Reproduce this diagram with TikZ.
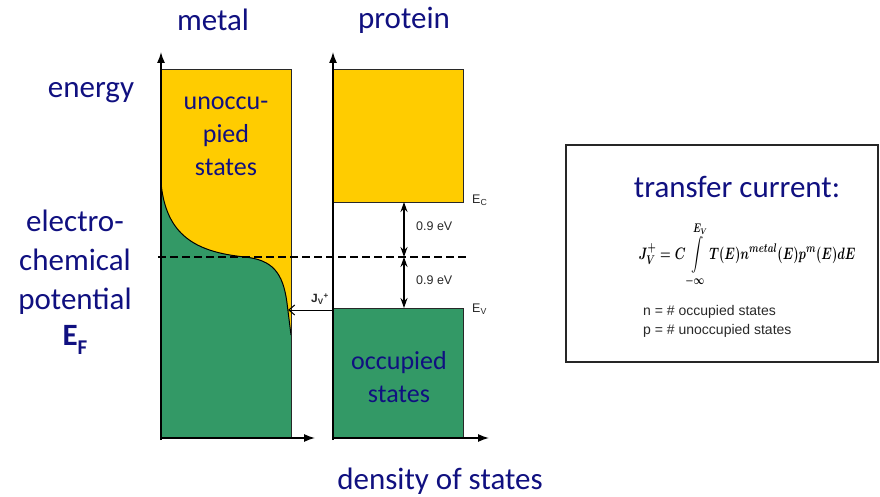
\documentclass[tikz,border=0pt]{standalone}
\usepackage{amsmath}
\usepackage{graphicx}
\usepackage{fontspec}
\setmainfont{Carlito}
\newfontfamily\arial{Liberation Sans}
\usetikzlibrary{arrows.meta}
\definecolor{navy}{RGB}{16,16,128}
\definecolor{gold}{RGB}{255,204,0}
\definecolor{dsgreen}{RGB}{51,153,102}
\definecolor{edge}{RGB}{40,40,40}
\definecolor{eqgray}{RGB}{40,40,40}
\newsavebox{\eqbox}
\tikzset{
  bigtxt/.style={text=navy, font=\fontsize{31}{39}\selectfont, inner sep=0pt, align=center},
  midtxt/.style={text=navy, font=\fontsize{26}{33}\selectfont, inner sep=0pt, align=center},
  smalltxt/.style={text=eqgray, font=\arial\fontsize{12.5}{15}\selectfont, inner sep=0pt},
  axisline/.style={line width=1.4pt, -{Latex[length=11pt,width=8pt]}},
  boxline/.style={draw=edge, line width=1pt},
  dblarrow/.style={line width=1.3pt, {Stealth[length=10pt,width=7pt]}-{Stealth[length=10pt,width=7pt]}},
}
\begin{document}
\mathversion{bold}%
\sbox{\eqbox}{\scalebox{0.85}[1.15]{\fontsize{15}{17}\selectfont
  $\displaystyle J_V^{+} = C\int\limits_{-\infty}^{E_V} T(E)n^{metal}(E)p^{m}(E)dE$}}%
\mathversion{normal}%
\begin{tikzpicture}[x=1pt,y=-1pt]
\useasboundingbox (0,0) rectangle (880,497);
% headings
\node[bigtxt] (metal) at (213,20) {metal};
\node[bigtxt] (protein) at (404,20) {protein};
\node[bigtxt] (energy) at (91,93) {energy};
\node[bigtxt] (ecp) at (75,262) {electro-\\chemical\\potential};
\node[text=navy, inner sep=0pt] (EF) at (75,340) {\fontsize{31}{39}\selectfont\bfseries E\raisebox{-0.28em}{\fontsize{21}{21}\selectfont\bfseries F}};
\node[bigtxt] (dos) at (440,481) {density of states};
% metal box
\fill[gold] (161,70) rectangle (291,438);
\fill[dsgreen] (161,183) .. controls (166,235) and (195,252) .. (245,257)
   .. controls (272,260) and (283,272) .. (287,303) -- (291,335) -- (291,438) -- (161,438) -- cycle;
\draw[line width=1pt] (161,183) .. controls (166,235) and (195,252) .. (245,257)
   .. controls (272,260) and (283,272) .. (287,303) -- (291,335);
\node[boxline, minimum width=130pt, minimum height=368pt, inner sep=0pt] (mbox) at (226,254) {};
\node[midtxt] (unocc) at (226,136) {unoccu-\\pied\\states};
% protein boxes
\node[boxline, fill=gold, minimum width=130pt, minimum height=132pt, inner sep=0pt] (cband) at (398,136) {};
\node[boxline, fill=dsgreen, minimum width=130pt, minimum height=130pt, inner sep=0pt] (vband) at (398,373) {};
\node[midtxt] (occ) at (399,377) {occupied\\states};
% axes
\coordinate (m0) at (161,440);
\coordinate (mtop) at (161,52);
\coordinate (mh0) at (160,438);
\coordinate (mright) at (315,438);
\coordinate (p0) at (333,440);
\coordinate (ptop) at (333,52);
\coordinate (ph0) at (332,438);
\coordinate (pright) at (489,438);
\draw[axisline] (m0) -- (mtop);
\draw[axisline] (mh0) -- (mright);
\draw[axisline] (p0) -- (ptop);
\draw[axisline] (ph0) -- (pright);
% Fermi level
\coordinate (fl) at (158,257);
\coordinate (fr) at (468,257);
\draw[line width=1.4pt, dash pattern=on 8pt off 4pt] (fl) -- (fr);
% gaps
\coordinate (ec) at (404,202);
\coordinate (ef) at (404,257);
\coordinate (ev) at (404,308);
\draw[dblarrow] (ec) -- (ef);
\draw[dblarrow] (ef) -- (ev);
\node[smalltxt, anchor=west] (g1) at (416,226) {0.9 eV};
\node[smalltxt, anchor=west] (g2) at (416,280) {0.9 eV};
\node[smalltxt, anchor=west] (EC) at (472,200) {E\textsubscript{C}};
\node[smalltxt, anchor=west] (EV) at (472,309) {E\textsubscript{V}};
% current arrow
\coordinate (js) at (333,310);
\coordinate (je) at (288,310);
\draw[line width=1pt, -{Straight Barb[length=6pt,width=10pt]}] (js) -- (je);
\node[smalltxt, font=\arial\bfseries\fontsize{12}{14}\selectfont] (J) at (320,299) {J\textsubscript{V}\textsuperscript{+}};
% right box
\node[draw=black!85, line width=1.5pt, minimum width=312pt, minimum height=217pt, inner sep=0pt] (tbox) at (722,253.5) {};
\node[bigtxt] (tc) at (737,187) {transfer current:};
\node[inner sep=0pt, text=eqgray] (eqn) at (747,255) {\usebox{\eqbox}};
\node[smalltxt, anchor=west, font=\arial\fontsize{14}{16}\selectfont] (nl) at (643,312) {n = \# occupied states};
\node[smalltxt, anchor=west, font=\arial\fontsize{14}{16}\selectfont] (pl) at (643,331) {p = \# unoccupied states};
\end{tikzpicture}
\end{document}
